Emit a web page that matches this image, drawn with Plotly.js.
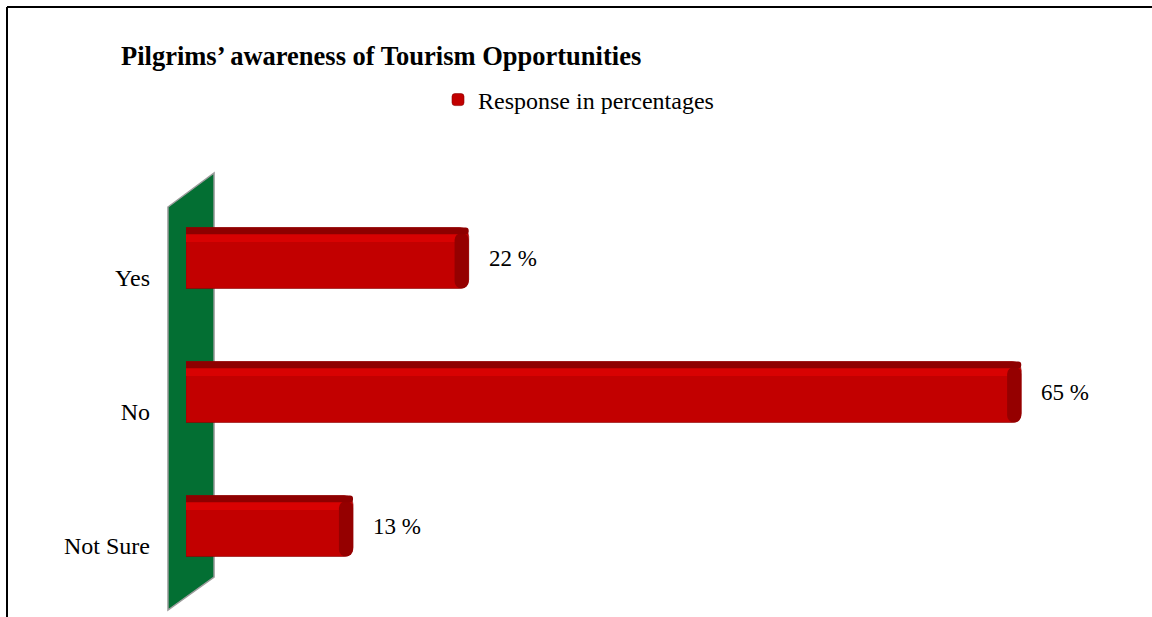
<!DOCTYPE html>
<html>
<head>
<meta charset="utf-8">
<script src="https://cdn.plot.ly/plotly-3.0.1.min.js"></script>
<style>html,body{margin:0;padding:0;background:#fff;}#chart{width:1152px;height:617px;}</style>
</head>
<body>
<div id="chart"></div>
<script>
// ---- data ----
const categories = ["Yes", "No", "Not Sure"];
const responsePct = [22, 65, 13];
const valueLabels = ["22 %", "65 %", "13 %"];
const seriesName = "Response in percentages";
const chartTitle = "Pilgrims\u2019 awareness of Tourism Opportunities";

// ---- layout helpers (pixel geometry of the page) ----
const W = 1152, H = 617;
const M = {l: 186, r: 12, t: 173, b: 7};
const plotW = W - M.l - M.r, plotH = H - M.t - M.b;
const px2paperX = p => (p - M.l) / plotW;
const px2paperY = p => (H - M.b - p) / plotH;

const serif = "Liberation Serif, Times New Roman, serif";
const barWidth = 0.455;

const traces = [
  // invisible trace that carries the category tick labels
  {type: "scatter", mode: "markers", x: responsePct, y: categories, yaxis: "y",
   marker: {opacity: 0}, showlegend: false, hoverinfo: "skip"},
  // main bar body
  {type: "bar", orientation: "h", name: seriesName, x: responsePct, y: categories, yaxis: "y2",
   width: barWidth, marker: {color: "#c20000", cornerradius: 9, line: {color: "#8a0000", width: 0.6}},
   showlegend: true, hoverinfo: "x+y"},
  // light highlight band
  {type: "bar", orientation: "h", x: responsePct.map(v => v - 0.3), y: categories, yaxis: "y2",
   width: 0.06, offset: -0.18, marker: {color: "#d80202", cornerradius: 3}, showlegend: false, hoverinfo: "skip"},
  // darker side face at the bar end
  {type: "bar", orientation: "h", x: responsePct.map(() => 1.1), base: responsePct.map(v => v - 1.1),
   y: categories, yaxis: "y2", width: barWidth - 0.04, offset: -barWidth / 2 + 0.04,
   marker: {color: "#950000", cornerradius: 9}, showlegend: false, hoverinfo: "skip"},
  // dark top face
  {type: "bar", orientation: "h", x: responsePct, y: categories, yaxis: "y2",
   width: 0.05, offset: -barWidth / 2, marker: {color: "#8e0000", cornerradius: 4},
   showlegend: false, hoverinfo: "skip"}
];

const annotations = responsePct.map((v, i) => ({
  x: v, y: categories[i], xref: "x", yref: "y2", text: valueLabels[i],
  xanchor: "left", yanchor: "middle", xshift: 18, showarrow: false,
  font: {family: serif, size: 23, color: "#000"}
}));

// 3D back wall (green panel) and frame lines
const wall = [[168, 207], [214, 173], [214, 577], [168, 610]]
  .map(([x, y], k) => (k ? "L" : "M") + px2paperX(x).toFixed(4) + "," + px2paperY(y).toFixed(4)).join(" ") + " Z";

const shapes = [
  {type: "path", xref: "paper", yref: "paper", path: wall, layer: "below",
   fillcolor: "#036f33", line: {color: "#9c9c9c", width: 1.5}},
  {type: "line", xref: "paper", yref: "paper", x0: px2paperX(7), x1: px2paperX(W), y0: px2paperY(7), y1: px2paperY(7),
   line: {color: "#000", width: 2}},
  {type: "line", xref: "paper", yref: "paper", x0: px2paperX(7), x1: px2paperX(7), y0: px2paperY(7), y1: px2paperY(H + 2),
   line: {color: "#000", width: 2}}
];

const pxPerCat = 134;
const yRange = (centerPx) => {
  const top = -(centerPx - M.t) / pxPerCat;
  return [top + plotH / pxPerCat, top];
};

const layout = {
  width: W, height: H,
  margin: M,
  paper_bgcolor: "#fff", plot_bgcolor: "rgba(0,0,0,0)",
  barmode: "overlay",
  font: {family: serif, size: 24, color: "#000"},
  title: {text: "<b>" + chartTitle + "</b>", xref: "container", yref: "container",
          x: 121 / W, xanchor: "left", y: 1 - 56 / H, yanchor: "middle",
          font: {family: serif, size: 26.5, color: "#000"}},
  showlegend: true,
  legend: {orientation: "h", x: px2paperX(438), xanchor: "left", y: px2paperY(100), yanchor: "middle",
           font: {family: serif, size: 24, color: "#000"}, bgcolor: "rgba(0,0,0,0)"},
  xaxis: {range: [0, plotW / 12.85], showgrid: false, zeroline: false, showticklabels: false,
          showline: false, fixedrange: true},
  yaxis: {type: "category", categoryorder: "array", categoryarray: categories,
          range: yRange(278), showgrid: false, zeroline: false, showline: false, ticks: "",
          ticklabelstandoff: 35, tickfont: {family: serif, size: 24, color: "#000"}},
  yaxis2: {type: "category", categoryorder: "array", categoryarray: categories, overlaying: "y",
           range: yRange(258), showgrid: false, zeroline: false, showline: false,
           showticklabels: false, ticks: ""},
  annotations: annotations,
  shapes: shapes
};

Plotly.newPlot("chart", traces, layout, {displayModeBar: false, staticPlot: true});
</script>
</body>
</html>
